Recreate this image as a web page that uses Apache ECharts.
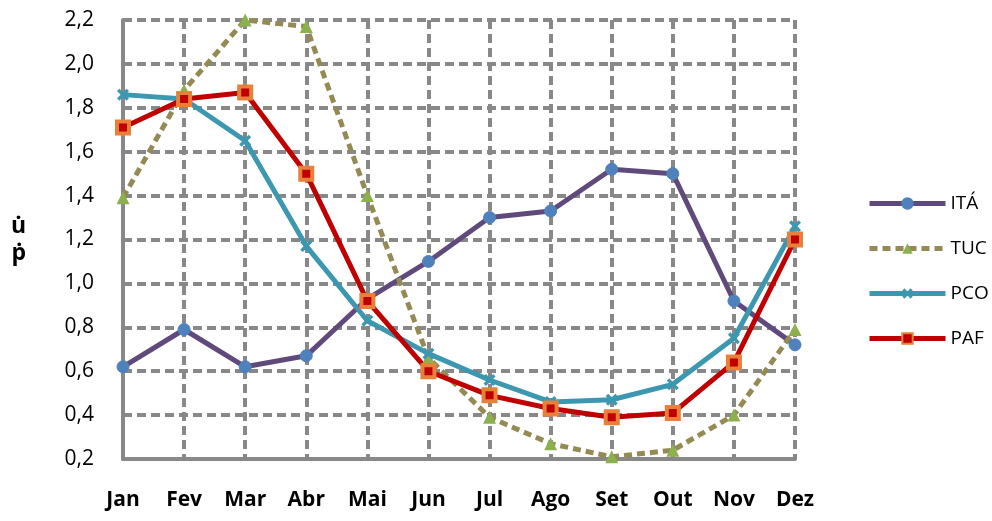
<!DOCTYPE html>
<html>
<head>
<meta charset="utf-8">
<script src="https://cdn.jsdelivr.net/npm/echarts@6/dist/echarts.min.js"></script>
<style>html,body{margin:0;padding:0;background:#fff}#c{width:992px;height:521px}</style>
</head>
<body>
<div id="c"></div>
<script>
const categories = ['Jan','Fev','Mar','Abr','Mai','Jun','Jul','Ago','Set','Out','Nov','Dez'];
const ITA = [0.62,0.79,0.62,0.67,0.93,1.10,1.30,1.33,1.52,1.50,0.92,0.72];
const TUC = [1.39,1.88,2.20,2.17,1.40,0.66,0.39,0.27,0.21,0.24,0.40,0.79];
const PCO = [1.86,1.84,1.65,1.17,0.83,0.68,0.56,0.46,0.47,0.54,0.75,1.26];
const PAF = [1.71,1.84,1.87,1.50,0.92,0.60,0.49,0.43,0.39,0.41,0.64,1.20];
const yTicks = {min:0.2, max:2.2, interval:0.2};

const FONT = '"Open Sans", "Noto Sans", sans-serif';
const xPath = 'path://M0,2 L2,0 L5,3 L8,0 L10,2 L7,5 L10,8 L8,10 L5,7 L2,10 L0,8 L3,5 Z';
const chart = echarts.init(document.getElementById('c'), null, {renderer:'canvas'});
chart.setOption({
  animation:false,
  grid: {left:123, right:197, top:20, bottom:62},
  legend: {
    orient:'vertical', left:862, top:189, itemWidth:76, itemHeight:13, itemGap:26,
    textStyle:{fontFamily:FONT, fontSize:19, color:'#000'},
    lineStyle:{width:5},
    data:['ITÁ','TUC','PCO','PAF']
  },
  xAxis: {
    type:'category', data:categories, boundaryGap:false,
    axisLine:{lineStyle:{color:'#888', width:4}},
    axisTick:{show:false},
    axisLabel:{fontFamily:FONT, fontWeight:'bold', fontSize:21, color:'#000', margin:31},
    splitLine:{show:true, lineStyle:{color:'#888', width:4, type:[9,5]}}
  },
  yAxis: {
    type:'value', min:yTicks.min, max:yTicks.max, interval:yTicks.interval,
    name:'u̇\nṗ', nameLocation:'middle', nameRotate:0, nameGap:97,
    nameTextStyle:{fontFamily:FONT, fontWeight:'bold', fontSize:23, color:'#000', lineHeight:27},
    axisLine:{show:true, lineStyle:{color:'#888', width:4}},
    axisTick:{show:false},
    axisLabel:{fontFamily:FONT, fontSize:21, color:'#000', margin:29,
      formatter:v=>v.toFixed(1).replace('.',',')},
    splitLine:{show:true, lineStyle:{color:'#888', width:4, type:[9,5]}}
  },
  series: [
    {name:'ITÁ', type:'line', data:ITA, symbol:'circle', symbolSize:12,
     lineStyle:{color:'#604A7B', width:5},
     itemStyle:{color:'#4F81BD', borderColor:'#4F81BD', borderWidth:1}},
    {name:'TUC', type:'line', data:TUC, symbol:'triangle', symbolSize:13,
     lineStyle:{color:'#948A54', width:5, type:[8,5]},
     itemStyle:{color:'#8DB04F'}},
    {name:'PCO', type:'line', data:PCO, symbol:xPath, symbolSize:12,
     lineStyle:{color:'#3C97B0', width:5},
     itemStyle:{color:'#3C97B0'}},
    {name:'PAF', type:'line', data:PAF, symbol:'rect', symbolSize:12,
     lineStyle:{color:'#C00000', width:5},
     itemStyle:{color:'#C00000', borderColor:'#E8803A', borderWidth:4}}
  ]
});
</script>
</body>
</html>
